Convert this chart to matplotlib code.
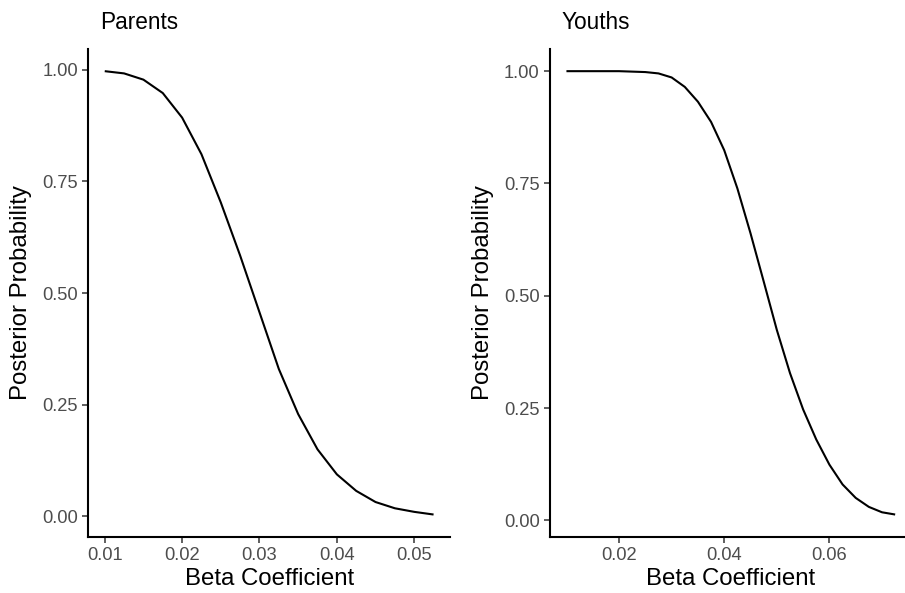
import matplotlib
matplotlib.use("Agg")
import matplotlib.pyplot as plt

plt.rcParams['font.family'] = ['Liberation Sans', 'DejaVu Sans']

# beta grid and posterior probabilities
parents_beta = [0.0100, 0.0125, 0.0150, 0.0175, 0.0200, 0.0225, 0.0250, 0.0275, 0.0300,
                0.0325, 0.0350, 0.0375, 0.0400, 0.0425, 0.0450, 0.0475, 0.0500, 0.0525]
parents_prob = [0.997, 0.992, 0.978, 0.948, 0.893, 0.811, 0.703, 0.584, 0.457,
                0.330, 0.229, 0.150, 0.094, 0.057, 0.032, 0.018, 0.010, 0.004]

youths_beta = [0.0100, 0.0125, 0.0150, 0.0175, 0.0200, 0.0225, 0.0250, 0.0275, 0.0300,
               0.0325, 0.0350, 0.0375, 0.0400, 0.0425, 0.0450, 0.0475, 0.0500, 0.0525,
               0.0550, 0.0575, 0.0600, 0.0625, 0.0650, 0.0675, 0.0700, 0.0725]
youths_prob = [1.000, 1.000, 1.000, 1.000, 1.000, 0.999, 0.998, 0.995, 0.986,
               0.965, 0.932, 0.887, 0.824, 0.739, 0.639, 0.532, 0.424, 0.328,
               0.247, 0.180, 0.124, 0.080, 0.050, 0.030, 0.018, 0.013]

parents_ticks = [0.01, 0.02, 0.03, 0.04, 0.05]
youths_ticks = [0.02, 0.04, 0.06]
y_ticks = [0.0, 0.25, 0.5, 0.75, 1.0]

W, H = 905, 593
fig = plt.figure(figsize=(W / 100, H / 100), dpi=100)

# axes boxes in pixels: left, right, top, bottom
boxes = [(88.3, 450.0, 49.0, 536.7), (550.0, 911.6, 49.0, 536.7)]
panels = [("Parents", parents_beta, parents_prob, parents_ticks, "{:.2f}"),
          ("Youths", youths_beta, youths_prob, youths_ticks, "{:.2f}")]

for (l, r, t, b), (title, xs, ys, xt, fmt) in zip(boxes, panels):
    ax = fig.add_axes([l / W, (H - b) / H, (r - l) / W, (b - t) / H])
    ax.plot(xs, ys, color='black', lw=1.5, solid_capstyle='butt')
    ax.margins(x=0.05, y=0.05)

    ax.set_xticks(xt)
    ax.set_xticklabels([fmt.format(v) for v in xt])
    ax.set_yticks(y_ticks)
    ax.set_yticklabels(["{:.2f}".format(v) for v in y_ticks])

    for side in ['top', 'right']:
        ax.spines[side].set_visible(False)
    for side in ['left', 'bottom']:
        ax.spines[side].set_linewidth(1.5)
    ax.tick_params(length=4, width=1.1, color='#333333', labelsize=13.2,
                   labelcolor='#4D4D4D', pad=3.5)

    ax.set_xlabel("Beta Coefficient", fontsize=17.3)
    ax.set_ylabel("Posterior Probability", fontsize=17.3)
    ax.xaxis.set_label_coords(0.5, -31.0 / (b - t))
    ax.yaxis.set_label_coords(-55.8 / (r - l), 0.5)

    ax.text(11.7 / (r - l), 1 + 20.0 / (b - t), title, transform=ax.transAxes,
            fontsize=16.3, ha='left', va='baseline')

fig.savefig("out.png", dpi=100)
